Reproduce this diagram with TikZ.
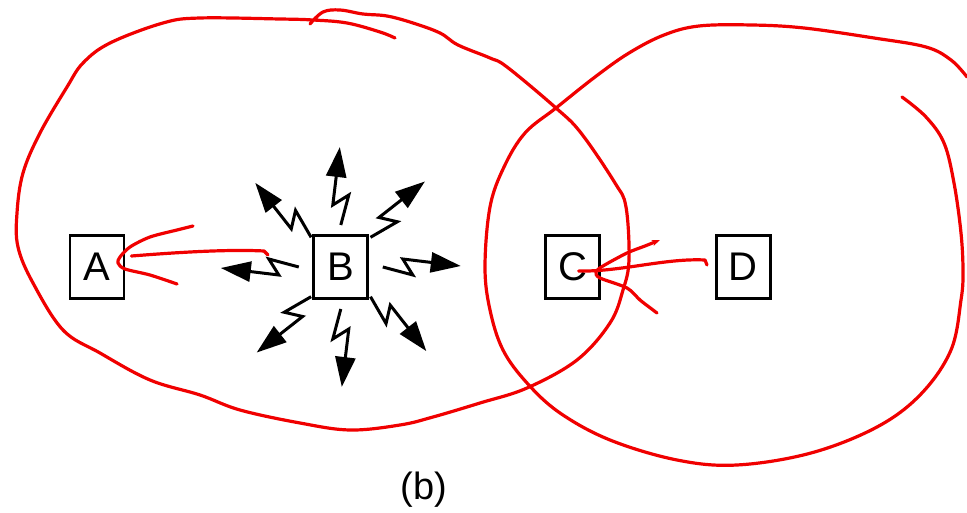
\documentclass[tikz,border=0pt]{standalone}
\usepackage{fontspec}
\setmainfont{Liberation Sans}
\usetikzlibrary{positioning,arrows.meta}
\definecolor{penRed}{RGB}{240,0,0}

\begin{document}
\begin{tikzpicture}[
    x=1pt, y=-1pt,
    box node/.style={rectangle, draw=black, line width=2.8pt, minimum width=54pt, minimum height=63pt, inner sep=0pt, font=\fontsize{40}{44}\selectfont},
    bolt/.style={line width=3pt, -{Triangle[length=30pt,width=20pt]}},
    red stroke/.style={draw=penRed, line width=3.2pt, line cap=round, line join=round},
    caption note/.style={font=\fontsize{38}{42}\selectfont}
]
  \useasboundingbox (0,0) rectangle (967,513);

  \node[box node] (a) at (97,267) {A};
  \node[box node] (b) [right=187pt of a] {B};
  \node[box node] (c) [right=175pt of b] {C};
  \node[box node] (d) [right=114pt of c] {D};
  \node[caption note] (cap) at (424,490) {(b)};

  % B sends in all directions
  \foreach \ang in {0,45,...,315}
    \draw[bolt, shift={(b.center)}, rotate=\ang] (42,0) -- (72,8) -- (62,-8) -- (120,-1);

  % left region
  \draw[red stroke] plot[smooth, tension=0.6] coordinates {
    (395,38) (380,32) (347,23) (313,20) (280,19) (200,18) (163,23) (110,43) (83,63)
    (67,87) (40,133) (23,173) (17,213) (18,247) (33,283) (63,330) (100,353) (150,380)
    (200,395) (240,410) (300,423) (350,430) (400,425) (433,417) (480,403) (527,388)
    (577,360) (610,323) (623,290) (629,260) (626,207) (615,183) (581,133) (556,108)
    (507,67) (490,58) (458,45) (440,33) (413,23) (387,16) (363,14) (340,10) (323,12) (310,24)};

  % right region
  \draw[red stroke] plot[smooth, tension=0.6] coordinates {
    (902,97) (926,117) (944,143) (954,183) (961,233) (963,272) (961,300) (951,350)
    (921,394) (877,427) (811,453) (737,465) (677,460) (610,440) (560,413) (527,383)
    (503,350) (490,310) (485,267) (490,207) (504,167) (525,133) (556,108) (595,77)
    (629,53) (664,35) (699,26) (752,25) (804,28) (874,38) (926,47) (951,60) (967,77)};

  % B reaches A
  \coordinate (atail) at (264,251);
  \draw[red stroke] ([shift={(4,4)}]atail) -- (atail) .. controls (225,249) and (170,253) .. ([shift={(6,-11)}]a.east);
  \draw[red stroke] plot[smooth] coordinates {
    (193,226) (177,230) (150,237) (130,247) (120,257) (118,263) (125,269) (150,275) (177,284)};

  % D reaches C
  \coordinate (dtail) at (705,260);
  \draw[red stroke] ([shift={(2,5)}]dtail) -- (dtail) .. controls (665,258) and (620,272) .. ([shift={(6,4)}]c.center);
  \draw[red stroke, {Stealth[length=8pt,width=6pt]}-] plot[smooth] coordinates {
    (660,240) (645,246) (627,253) (603,266) (596,272) (600,278) (627,288) (640,300) (653,310) (657,313)};
\end{tikzpicture}
\end{document}
